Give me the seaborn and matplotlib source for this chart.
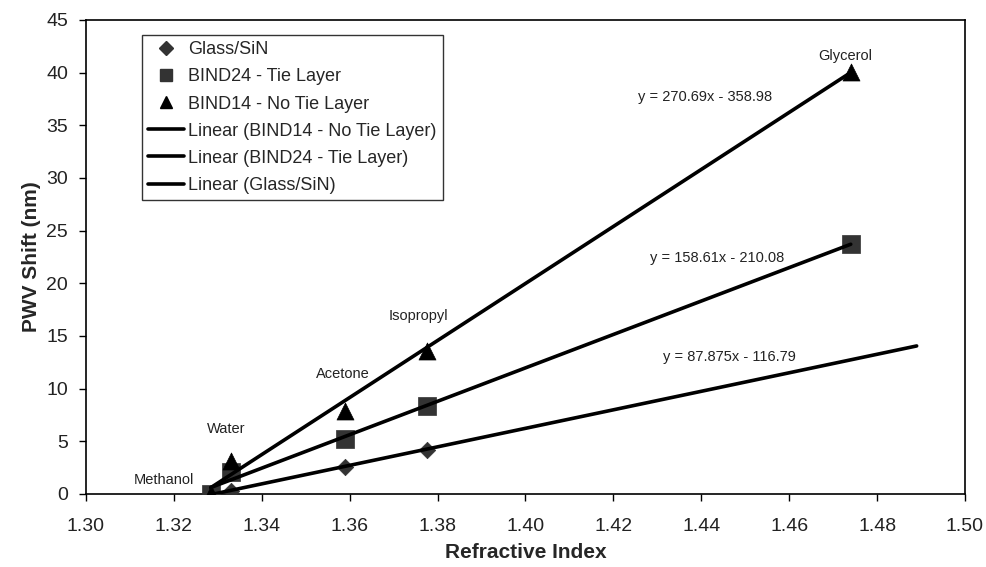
import numpy as np
import pandas as pd
import matplotlib
matplotlib.use("Agg")
import matplotlib.pyplot as plt
import seaborn as sns
from matplotlib.lines import Line2D

# ---- data ----
solvents = ["Methanol", "Water", "Acetone", "Isopropyl", "Glycerol"]
ri = [1.3284, 1.333, 1.359, 1.3776, 1.474]
glass_sin = [0.0, 0.3, 2.6, 4.2]            # no glycerol point shown
bind24 = [0.0, 2.1, 5.2, 8.4, 23.7]
bind14 = [0.0, 3.1, 7.9, 13.6, 40.1]

series_names = ["Glass/SiN", "BIND24 - Tie Layer", "BIND14 - No Tie Layer"]
slopes = [87.875, 158.61, 270.69]
intercepts = [-116.79, -210.08, -358.98]
fit_end = [1.489, 1.474, 1.474]
equations = ["y = 87.875x - 116.79", "y = 158.61x - 210.08", "y = 270.69x - 358.98"]

x_ticks = [1.30, 1.32, 1.34, 1.36, 1.38, 1.40, 1.42, 1.44, 1.46, 1.48, 1.50]
y_ticks = [0, 5, 10, 15, 20, 25, 30, 35, 40, 45]

# ---- style ----
sns.set_theme(style="white")
plt.rcParams["font.family"] = ["Liberation Sans", "DejaVu Sans"]

fig = plt.figure(figsize=(9.86, 5.67), dpi=100)
ax = fig.add_axes([86 / 986, 1 - 494 / 567, (965 - 86) / 986, (494 - 20) / 567])

markers = ["D", "s", "^"]
msizes = [70, 150, 150]
mcolors = ["#333333", "#333333", "#000000"]
yvals = [glass_sin, bind24, bind14]

point_handles = []
for name, m, s, c, yv in zip(series_names, markers, msizes, mcolors, yvals):
    df = pd.DataFrame({"x": ri[:len(yv)], "y": yv})
    sns.scatterplot(data=df, x="x", y="y", marker=m, s=s, color=c,
                    edgecolor=c, linewidth=0.5, ax=ax, zorder=3)
    point_handles.append(Line2D([], [], linestyle="none", marker=m, color=c,
                                markersize=7 if m == "D" else 9))

line_handles = []
for name, k, b, xe in zip(series_names, slopes, intercepts, fit_end):
    xs = np.array([ri[0], xe])
    ldf = pd.DataFrame({"x": xs, "y": k * xs + b})
    sns.lineplot(data=ldf, x="x", y="y", color="black", linewidth=2.6, ax=ax, zorder=4)
    line_handles.append(Line2D([], [], color="black", linewidth=2.6))

# solvent labels
label_pos = [(1.3178, 1.3), (1.332, 6.2), (1.3585, 11.4), (1.3757, 16.9), (1.4727, 41.6)]
for name, (lx, ly) in zip(solvents, label_pos):
    ax.text(lx, ly, name, ha="center", va="center", fontsize=10.5, color="#222222")

# equation labels
eq_pos = [(1.4463, 13.0), (1.4436, 22.4), (1.4408, 37.7)]
for eq, (ex, ey) in zip(equations, eq_pos):
    ax.text(ex, ey, eq, ha="center", va="center", fontsize=10.5, color="#222222")

ax.set_xlim(1.30, 1.50)
ax.set_ylim(0, 45)
ax.set_xticks(x_ticks)
ax.set_xticklabels([f"{v:.2f}" for v in x_ticks])
ax.set_yticks(y_ticks)
ax.set_yticklabels([str(v) for v in y_ticks])
ax.tick_params(axis="both", direction="out", length=5, width=1, color="black",
               labelsize=14, labelcolor="#222222", bottom=True, left=True)
ax.tick_params(axis="x", pad=12)
ax.tick_params(axis="y", pad=8)
ax.set_xlabel("Refractive Index", fontsize=15, fontweight="bold", labelpad=6)
ax.set_ylabel("PWV Shift (nm)", fontsize=15, fontweight="bold", labelpad=4)
for sp in ax.spines.values():
    sp.set_visible(True)
    sp.set_color("black")
    sp.set_linewidth(1.2)

handles = point_handles + line_handles[::-1]
labels = series_names + [f"Linear ({n})" for n in series_names[::-1]]
leg = ax.legend(handles, labels, loc="upper left",
                bbox_to_anchor=((142 - 86) / 879, (494 - 35) / 474),
                borderaxespad=0, frameon=True, fancybox=False, fontsize=13,
                handlelength=2.0, handletextpad=0.2, labelspacing=0.56,
                borderpad=0.35)
leg.get_frame().set_edgecolor("black")
leg.get_frame().set_linewidth(1.0)

fig.savefig("out.png", dpi=100)
